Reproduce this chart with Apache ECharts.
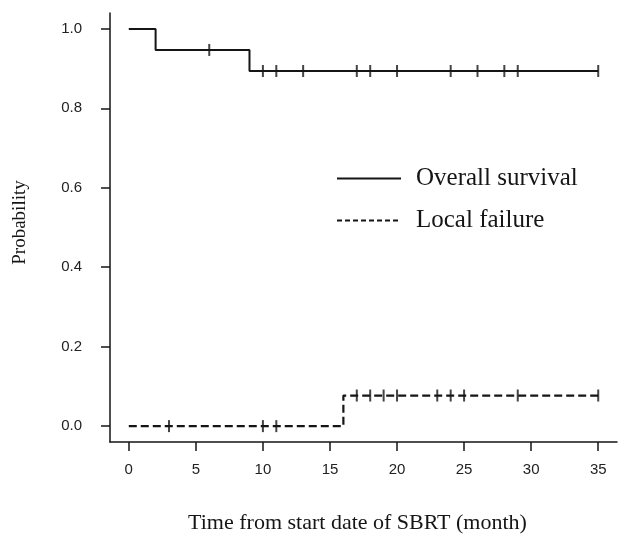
<!DOCTYPE html>
<html>
<head>
<meta charset="utf-8">
<script src="https://cdn.jsdelivr.net/npm/echarts@6/dist/echarts.min.js"></script>
<style>
  html, body { margin: 0; padding: 0; background: #fff; }
  #km { width: 618px; height: 534px; }
</style>
</head>
<body>
<div id="km"></div>
<script>
// Kaplan-Meier steps (time in months)
const osTime = [0, 2, 9, 35]
const osProb = [1.0, 0.947, 0.894, 0.894]
const osCensorTime = [6, 10, 11, 13, 17, 18, 20, 24, 26, 28, 29, 35]
const osCensorProb = [0.947, 0.894, 0.894, 0.894, 0.894, 0.894, 0.894, 0.894, 0.894, 0.894, 0.894, 0.894]

const lfTime = [0, 16, 35]
const lfProb = [0.0, 0.077, 0.077]
const lfCensorTime = [3, 10, 11, 17, 18, 19, 20, 23, 24, 25, 29, 35]
const lfCensorProb = [0, 0, 0, 0.077, 0.077, 0.077, 0.077, 0.077, 0.077, 0.077, 0.077, 0.077]

const xTicks = [0, 5, 10, 15, 20, 25, 30, 35]
const yTicks = [0, 0.2, 0.4, 0.6, 0.8, 1.0]

const ink = '#151515'
const zip = (xs, ys) => xs.map((x, i) => [x, ys[i]])

const chart = echarts.init(document.getElementById('km'))

const option = {
  animation: false,
  backgroundColor: '#fff',
  grid: { left: 110, right: 1, top: 13, bottom: 92, containLabel: false, outerBoundsMode: 'none' },
  legend: {
    data: [
      { name: 'Overall survival' },
      { name: 'Local failure', lineStyle: { type: [5, 3], width: 2 } }
    ],
    orient: 'vertical',
    left: 336,
    top: 166,
    padding: 0,
    itemWidth: 64,
    itemHeight: 14,
    itemGap: 17,
    itemStyle: { opacity: 0 },
    textStyle: {
      fontFamily: 'Liberation Serif',
      fontSize: 25,
      color: ink,
      padding: [0, 0, 0, 10]
    }
  },
  xAxis: {
    type: 'value',
    min: -1.4,
    max: 36.4,
    name: 'Time from start date of SBRT (month)',
    nameLocation: 'middle',
    nameGap: 70,
    nameTextStyle: { fontFamily: 'Liberation Serif', fontSize: 22, color: ink, padding: [0, 12, 0, 0] },
    axisLine: { show: true, onZero: false, lineStyle: { color: ink, width: 1.5 } },
    axisTick: { show: true, customValues: xTicks, length: 9, lineStyle: { color: ink, width: 1.5 } },
    axisLabel: {
      customValues: xTicks,
      margin: 20,
      fontFamily: 'Liberation Sans',
      fontSize: 15,
      color: '#222'
    },
    splitLine: { show: false }
  },
  yAxis: {
    type: 'value',
    min: -0.04,
    max: 1.04,
    name: 'Probability',
    nameLocation: 'middle',
    nameGap: 80,
    nameTextStyle: { fontFamily: 'Liberation Serif', fontSize: 19, color: ink, padding: [0, 0, 0, 10] },
    axisLine: { show: true, onZero: false, lineStyle: { color: ink, width: 1.5 } },
    axisTick: { show: true, customValues: yTicks, length: 9, lineStyle: { color: ink, width: 1.5 } },
    axisLabel: {
      customValues: yTicks,
      margin: 28,
      fontFamily: 'Liberation Sans',
      fontSize: 15,
      color: '#222',
      formatter: (v) => v.toFixed(1)
    },
    splitLine: { show: false }
  },
  series: [
    {
      name: 'Overall survival',
      type: 'line',
      step: 'end',
      symbol: 'none',
      data: zip(osTime, osProb),
      lineStyle: { color: ink, width: 2 },
      itemStyle: { color: ink }
    },
    {
      name: 'Local failure',
      type: 'line',
      step: 'end',
      symbol: 'none',
      data: zip(lfTime, lfProb),
      lineStyle: { color: ink, width: 2.2, type: [8, 4] },
      itemStyle: { color: ink }
    },
    {
      name: 'OS censored',
      type: 'scatter',
      symbol: 'rect',
      symbolSize: [2, 12],
      data: zip(osCensorTime, osCensorProb),
      itemStyle: { color: ink }
    },
    {
      name: 'LF censored',
      type: 'scatter',
      symbol: 'rect',
      symbolSize: [2, 12],
      data: zip(lfCensorTime, lfCensorProb),
      itemStyle: { color: ink }
    }
  ]
}

chart.setOption(option)
</script>
</body>
</html>
